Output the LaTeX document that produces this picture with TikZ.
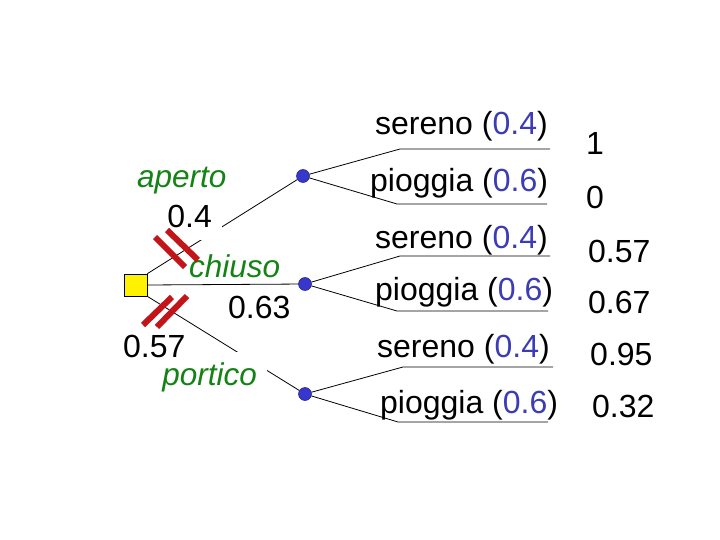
\documentclass[tikz,border=0pt]{standalone}
\usepackage{fontspec}
\setmainfont{Liberation Sans}
\definecolor{lblgreen}{RGB}{20,130,20}
\definecolor{probblue}{RGB}{60,60,180}
\definecolor{nodeblue}{RGB}{55,55,205}
\definecolor{nodeedge}{RGB}{30,30,120}
\definecolor{strikered}{RGB}{195,20,25}
\begin{document}
\begin{tikzpicture}[x=1pt,y=-1pt,
  lbl/.style={font=\fontsize{32}{38}\selectfont, inner sep=0pt, anchor=base west},
  choice/.style={lbl, text=lblgreen, font=\fontsize{31.5}{38}\selectfont\itshape},
  decision/.style={draw=black, line width=0.6pt, fill=yellow, minimum width=23pt, minimum height=22pt, inner sep=0pt},
  chance/.style={circle, draw=nodeedge, line width=0.5pt, fill=nodeblue, minimum size=13pt, inner sep=0pt},
  branch/.style={line width=0.8pt, black},
  strike/.style={line width=6pt, strikered},
  mask/.style={fill=white, inner xsep=10pt, inner ysep=0pt}
]
\useasboundingbox (0,0) rectangle (720,540);

% decision and chance nodes
\node[decision] (D) at (135.5,285) {};
\node[chance] (C1) at (303,176) {};
\node[chance] (C2) at (305,284) {};
\node[chance] (C3) at (305,394) {};

% main branches
\draw[branch] (D.north east) -- (C1);
\draw[branch] (D.east) -- (C2);
\draw[branch] (D.south east) -- (C3);

% outcome branches
\coordinate (a1) at (400,149); \coordinate (b1) at (550,149);
\coordinate (a2) at (397,204); \coordinate (b2) at (547,204);
\coordinate (a3) at (400,256); \coordinate (b3) at (550,256);
\coordinate (a4) at (397,311); \coordinate (b4) at (548,311);
\coordinate (a5) at (403,367); \coordinate (b5) at (553,367);
\coordinate (a6) at (398,422); \coordinate (b6) at (548,422);
\draw[branch] (C1) -- (a1) -- (b1);
\draw[branch] (C1) -- (a2) -- (b2);
\draw[branch] (C2) -- (a3) -- (b3);
\draw[branch] (C2) -- (a4) -- (b4);
\draw[branch] (C3) -- (a5) -- (b5);
\draw[branch] (C3) -- (a6) -- (b6);

% labels on main branches (with white background)
\node[lbl, mask, anchor=base east, text depth=13pt] (v04) at (222,227) {0.4};
\node[choice, mask, anchor=base east, text height=33pt] (lport) at (267,385) {portico};
\node[choice] (lap) at (137,188) {aperto};
\node[choice] (lch) at (189,277) {chiuso};
\node[lbl] (v063) at (228,318) {0.63};
\node[lbl] (v057) at (123,357) {0.57};

% outcome labels
\node[lbl] (o1) at (375,135) {sereno (\textcolor{probblue}{0.4})};
\node[lbl] (o2) at (370,192) {pioggia (\textcolor{probblue}{0.6})};
\node[lbl] (o3) at (375,248) {sereno (\textcolor{probblue}{0.4})};
\node[lbl] (o4) at (375,300) {pioggia (\textcolor{probblue}{0.6})};
\node[lbl] (o5) at (377,357) {sereno (\textcolor{probblue}{0.4})};
\node[lbl] (o6) at (380,413) {pioggia (\textcolor{probblue}{0.6})};

% payoffs
\node[lbl] (r1) at (586,155) {1};
\node[lbl] (r2) at (586,208) {0};
\node[lbl] (r3) at (588,262) {0.57};
\node[lbl] (r4) at (588,313) {0.67};
\node[lbl] (r5) at (590,365) {0.95};
\node[lbl] (r6) at (592,417) {0.32};

% pruning strikes
\draw[strike] (155,237) -- (185,267);
\draw[strike] (167,230) -- (198,260);
\draw[strike] (143,325) -- (172,297);
\draw[strike] (157,327) -- (187,296);
\end{tikzpicture}
\end{document}
